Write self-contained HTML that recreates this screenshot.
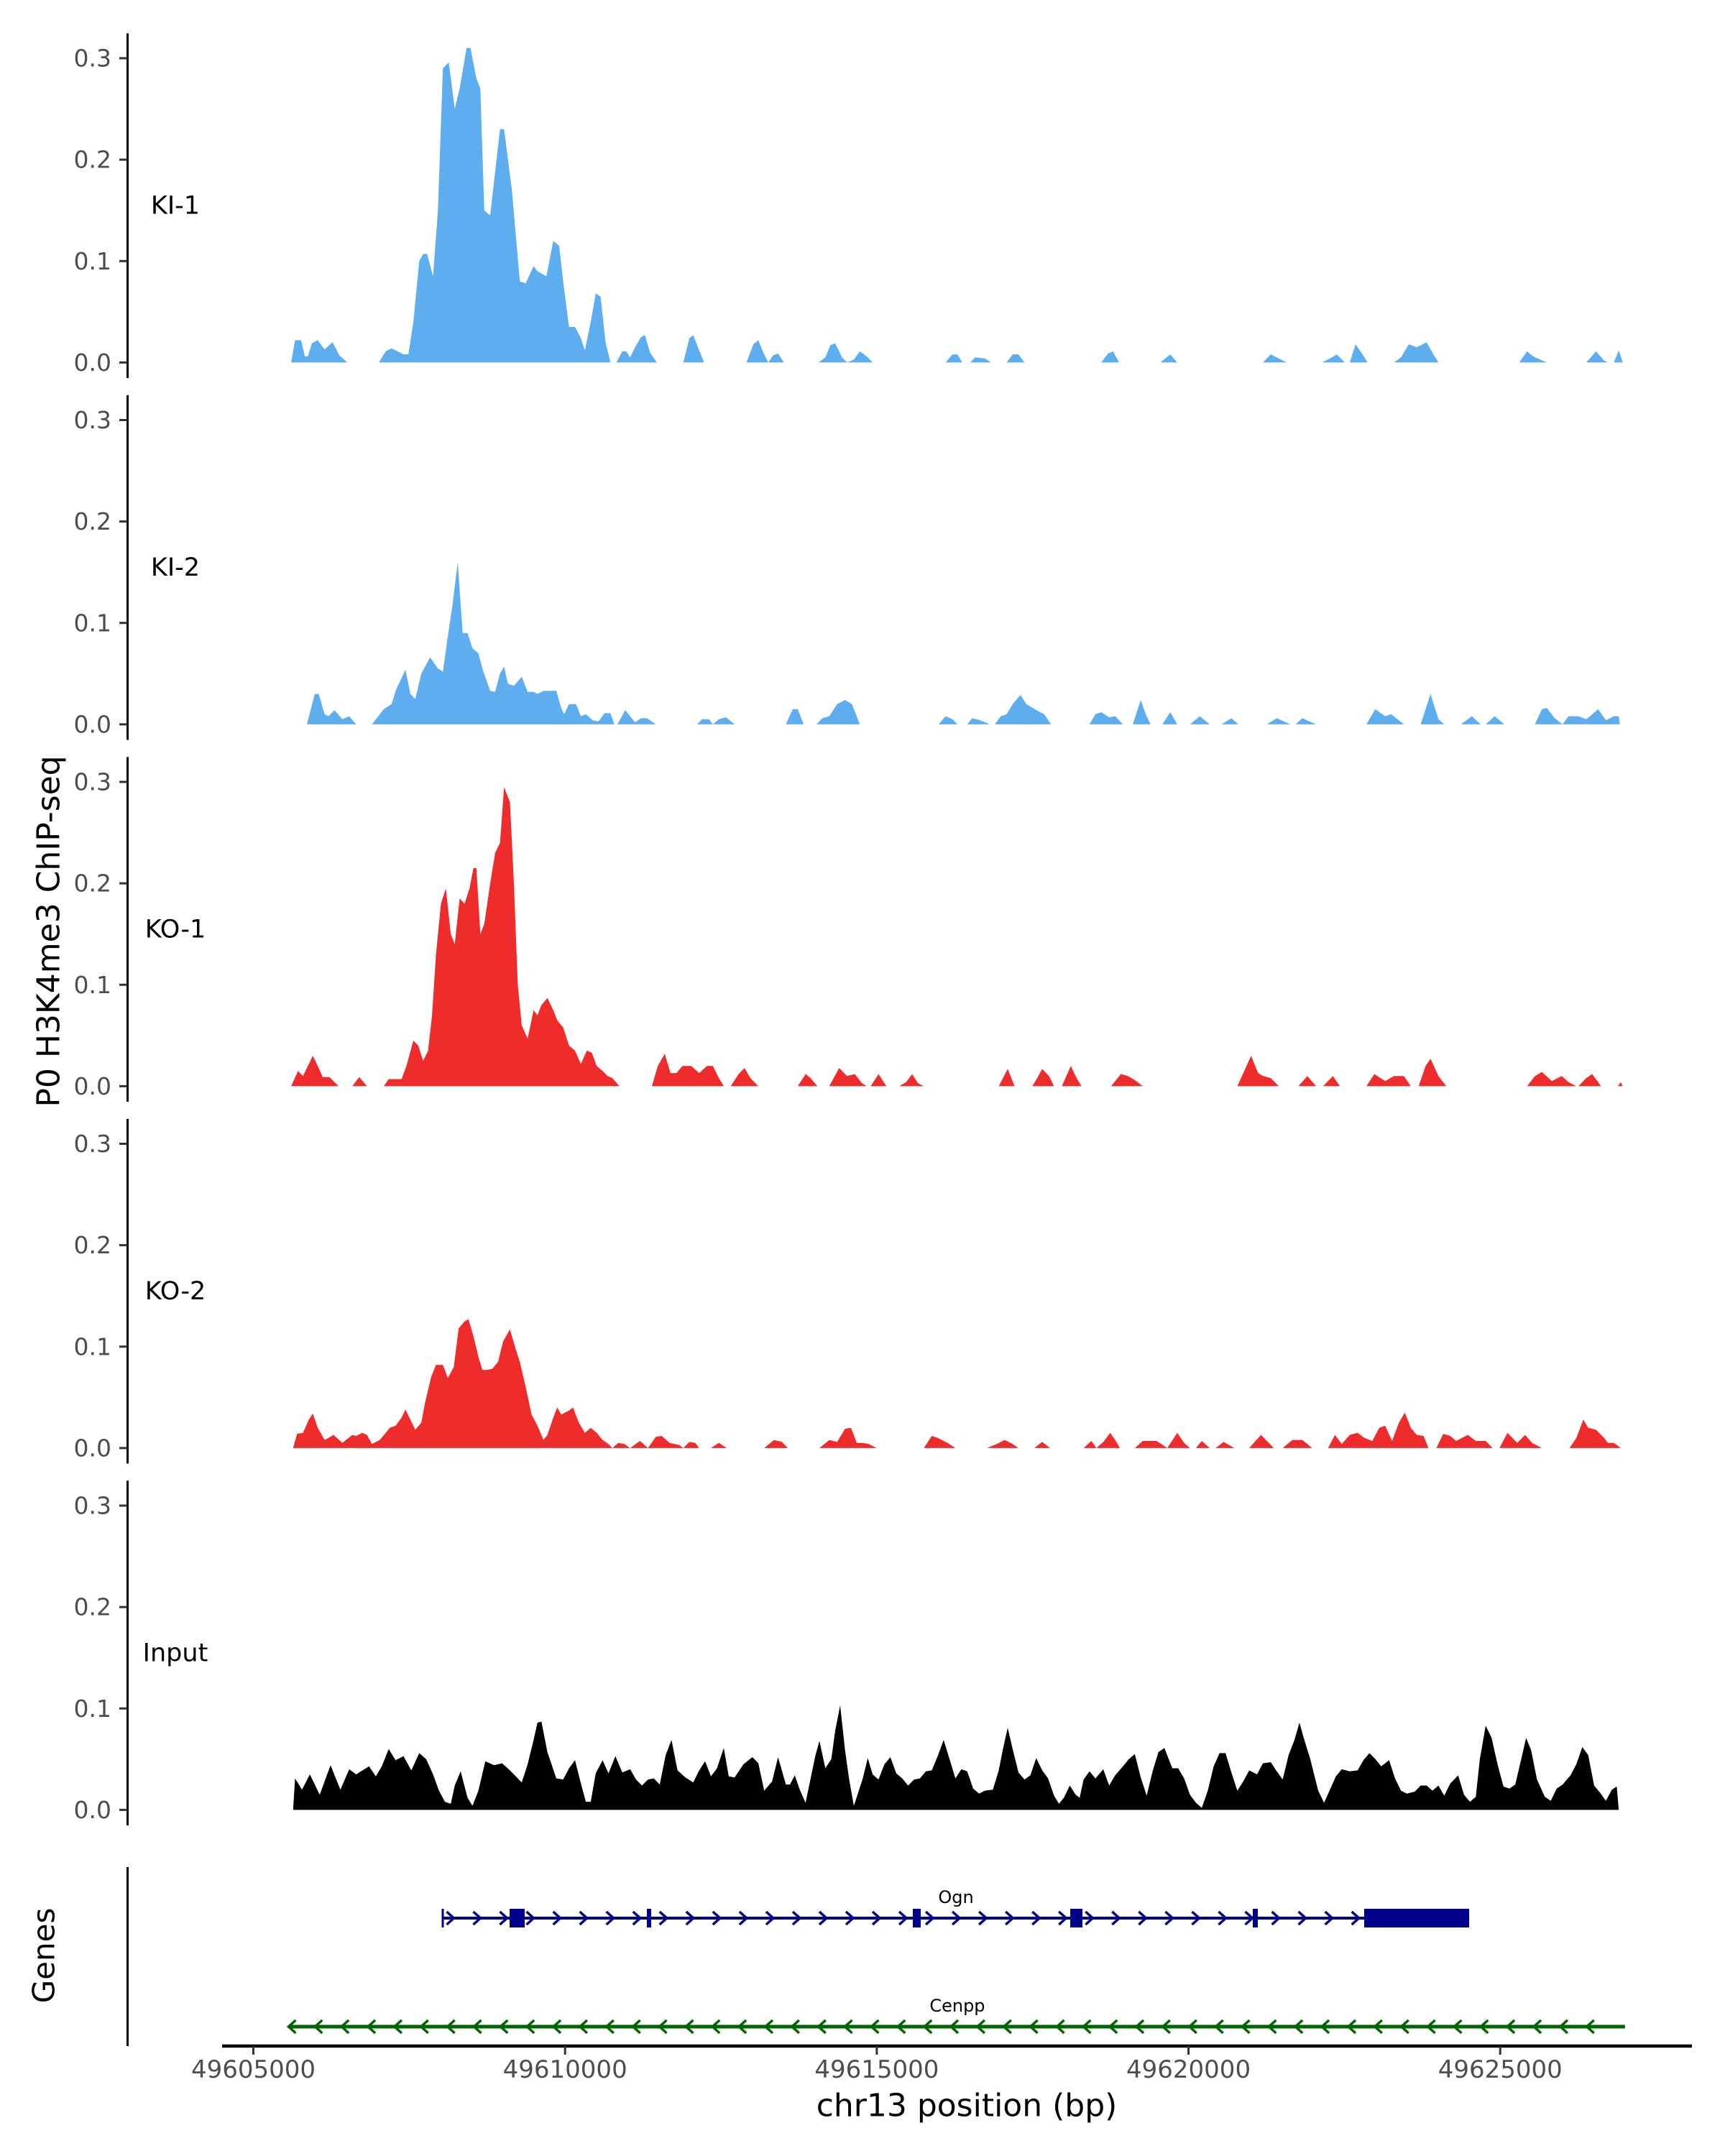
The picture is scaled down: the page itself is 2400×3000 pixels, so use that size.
<!DOCTYPE html>
<html><head><meta charset="utf-8">
<style>
html,body{margin:0;padding:0;background:#fff;}
svg{display:block;font-family:"DejaVu Sans","Liberation Sans",sans-serif;}
</style></head>
<body>
<svg id="chart" xmlns="http://www.w3.org/2000/svg" width="2400" height="3000" viewBox="0 0 2400 3000">
<rect x="0" y="0" width="2400" height="3000" fill="#fff"/>
<g id="tracks"></g>
<g id="genes"></g>
<g id="xaxis"></g>
<text x="68" y="1296" transform="rotate(-90 68 1296)" text-anchor="middle" dominant-baseline="central" font-size="44" fill="#000">P0 H3K4me3 ChIP-seq</text>
<text x="61" y="2721" transform="rotate(-90 61 2721)" text-anchor="middle" dominant-baseline="central" font-size="42" fill="#000">Genes</text>
<text x="1345" y="2930" text-anchor="middle" dominant-baseline="central" font-size="44" fill="#000">chr13 position (bp)</text>
</svg>
<script>
const base = 49600000;
const trackNames = ["KI-1","KI-2","KO-1","KO-2","Input"];
const trackColors = ["#5eadee","#5eadee","#ee2c2c","#ee2c2c","#000000"];
const yTicks = [0.0,0.1,0.2,0.3];
const yTickLabels = ["0.0","0.1","0.2","0.3"];
const xTicks = [49605000,49610000,49615000,49620000,49625000];

const ki1Pos = [5606,5669,5764,5827,5874,5938,6033,6143,6270,6380,6507,7013,7123,7218,7408,7487,7566,7661,7724,7787,7882,7961,8040,8135,8230,8309,8420,8483,8578,8641,8704,8799,8863,8957,9021,9147,9274,9368,9495,9558,9700,9811,9906,9969,10064,10159,10254,10317,10412,10491,10570,10649,10728,10823,10918,10981,11044,11123,11218,11281,11361,11471,11898,11993,12056,12151,12230,12910,13021,13100,13179,13258,13337,13416,13511,14064,14175,14254,14333,14443,14523,14633,14728,14839,14934,16104,16214,16293,16372,16499,16578,16736,16831,17084,17179,17273,17368,18601,18712,18791,18886,19550,19708,19819,21194,21321,21574,22143,22269,22380,22507,22586,22680,22823,22870,23297,23408,23534,23661,23819,23929,24009,25305,25431,25526,25748,26380,26538,26665,26728,26823,26902,26965];
const ki1Val = [0,.022,.022,.006,.006,.019,.022,.013,.02,.007,0,0,.011,.014,.008,.008,.04,.10,.107,.107,.085,.15,.29,.296,.25,.27,.31,.31,.28,.27,.15,.145,.18,.23,.23,.17,.08,.078,.095,.09,.085,.12,.115,.08,.035,.035,.024,.012,.04,.068,.065,.02,0,0,.011,.011,.005,.015,.025,.027,.01,0,0,.024,.027,.012,0,0,.018,.022,.01,0,.007,.009,0,0,.005,.017,.019,.005,0,.003,.011,.006,0,0,.008,.008,0,0,.005,.004,0,0,.008,.008,0,0,.009,.011,0,0,.008,0,0,.008,0,0,.004,.008,0,0,.018,.005,0,0,.005,.018,.015,.02,.008,0,0,.011,.006,0,0,.011,.002,0,0,.012,0];

const ki2Pos = [5859,5985,6048,6143,6206,6301,6428,6538,6649,6902,7092,7218,7282,7440,7519,7598,7693,7835,7961,8040,8104,8199,8278,8357,8436,8515,8610,8673,8799,8878,8957,9021,9084,9179,9305,9400,9495,9558,9653,9859,9938,9985,10064,10175,10254,10333,10444,10538,10633,10728,10791,10839,10965,11123,11218,11313,11455,12119,12198,12309,12372,12467,12578,12720,13542,13653,13732,13827,14032,14127,14238,14364,14491,14601,14728,15993,16104,16214,16293,16451,16530,16657,16815,16894,16989,17084,17179,17305,17400,17590,17685,17795,18412,18507,18601,18728,18823,18949,19107,19234,19313,19392,19582,19708,19819,20024,20182,20341,20530,20688,20799,21258,21416,21637,21716,21827,22048,22854,22997,23155,23250,23455,23724,23882,24009,24103,24372,24546,24688,24768,24910,25068,25558,25669,25748,25875,26001,26096,26254,26380,26459,26570,26697,26823,26902,26918];
const ki2Val = [0,.03,.03,.01,.008,.014,.005,.008,0,0,.015,.02,.033,.054,.03,.025,.05,.066,.055,.052,.08,.12,.16,.09,.09,.075,.07,.055,.033,.032,.05,.057,.04,.038,.047,.032,.032,.03,.033,.033,.016,.01,.02,.02,.008,.01,.004,.003,.011,.011,0,0,.014,.002,.006,.006,0,0,.005,.005,0,.005,.007,0,0,.015,.015,0,0,.006,.008,.02,.024,.02,0,0,.008,.005,0,0,.006,.004,0,0,.008,.01,.02,.029,.02,.013,.01,0,0,.01,.012,.007,.008,0,0,.024,.01,0,0,.012,0,0,.008,0,0,.006,0,0,.006,0,0,.006,0,0,.015,.008,.01,0,0,.03,.005,0,0,.008,0,0,.008,0,0,.015,.016,.006,0,.008,.008,.005,.009,.015,.004,.008,.008,0];

const ko1Pos = [5606,5716,5796,5875,5954,6033,6112,6222,6365,6586,6697,6823,7092,7171,7282,7377,7456,7566,7645,7724,7803,7866,7930,8009,8088,8167,8230,8309,8388,8467,8530,8577,8641,8704,8799,8878,8957,9021,9116,9179,9242,9305,9400,9495,9558,9621,9716,9811,9874,9969,10064,10159,10254,10349,10428,10507,10602,10681,10760,10871,11393,11487,11598,11692,11787,11882,12024,12151,12277,12372,12467,12546,12657,12783,12878,12973,13100,13732,13859,13938,14048,14238,14396,14523,14649,14760,14839,14902,15028,15155,15360,15471,15566,15661,15756,16957,17100,17210,17495,17574,17653,17763,17843,17969,18112,18206,18285,18759,18917,19028,19139,19266,20783,20894,21005,21116,21195,21321,21447,21763,21906,22048,22159,22317,22428,22854,22981,23155,23297,23455,23566,23692,23803,23882,24009,24135,25432,25558,25669,25828,25986,26096,26222,26254,26380,26475,26618,26886,26934,26965];
const ko1Val = [0,.015,.01,.02,.03,.02,.009,.009,0,0,.009,0,0,.007,.007,.007,.02,.045,.04,.025,.035,.07,.13,.18,.195,.15,.14,.185,.18,.195,.215,.215,.15,.16,.2,.23,.24,.295,.28,.2,.1,.06,.047,.075,.07,.08,.087,.075,.065,.058,.04,.035,.022,.035,.033,.02,.015,.01,.008,0,0,.02,.032,.013,.013,.02,.02,.013,.02,.02,.008,0,0,.012,.018,.008,0,0,.012,.008,0,0,.018,.01,.012,.003,0,0,.012,0,0,.004,.012,.003,0,0,.017,0,0,.008,.017,.01,0,0,.02,.008,0,0,.012,.01,.006,0,0,.015,.03,.013,.01,.008,0,0,.01,0,0,.01,0,0,.012,.005,.01,.01,0,0,.02,.027,.01,0,0,.01,.014,.005,.01,.004,0,0,.008,.012,0,0,.004,0];

const ko2Pos = [5637,5701,5796,5890,5954,6033,6143,6206,6285,6428,6586,6649,6744,6823,6902,7029,7124,7187,7282,7377,7440,7503,7598,7693,7756,7851,7930,8040,8120,8215,8294,8388,8452,8531,8610,8673,8736,8831,8926,9005,9116,9195,9274,9368,9463,9558,9653,9716,9811,9874,9938,10064,10127,10222,10317,10412,10507,10602,10697,10760,10855,10950,11044,11202,11329,11455,11550,11676,11835,11898,11993,12088,12151,12340,12467,12593,13194,13353,13479,13574,14080,14238,14364,14491,14586,14680,14775,14870,14997,15756,15882,15977,16135,16262,16768,16926,17052,17179,17273,17526,17653,17779,18317,18443,18523,18634,18744,18823,18902,19139,19266,19487,19660,19819,19929,20024,20119,20214,20341,20436,20562,20736,20973,21163,21368,21510,21669,21827,21985,22238,22349,22459,22586,22712,22823,22949,23060,23155,23266,23376,23471,23566,23661,23771,23850,23977,24087,24198,24293,24482,24609,24768,24878,24989,25116,25274,25400,25511,25669,26112,26222,26333,26412,26538,26665,26728,26823,26934];
const ko2Val = [0,.014,.015,.028,.034,.02,.008,.01,.013,.005,.013,.012,.015,.013,.004,.008,.015,.02,.022,.03,.038,.03,.018,.025,.045,.07,.082,.082,.069,.08,.118,.125,.127,.11,.09,.077,.077,.078,.085,.105,.117,.1,.085,.06,.033,.022,.008,.013,.03,.04,.033,.037,.04,.025,.015,.02,.015,.008,.004,0,.005,.004,0,.007,0,.011,.012,.005,.003,0,.006,.005,0,0,.005,0,0,.008,.006,0,0,.008,.006,.019,.02,.005,.005,.004,0,0,.012,.01,.005,0,0,.004,.008,.004,0,0,.006,0,0,.007,0,.006,.015,.008,0,0,.007,.007,0,.015,.005,0,0,.007,0,0,.006,0,0,.013,0,0,.008,.008,0,0,.013,.004,.013,.015,.01,.007,.02,.022,.007,.025,.035,.02,.013,.012,0,0,.014,.012,.007,.013,.007,.007,0,0,.015,.005,.013,.005,0,0,.01,.028,.02,.018,.01,.005,.005,0];

const inputPos = [5637,5669,5780,5906,6064,6238,6396,6538,6649,6855,6965,7060,7171,7282,7408,7534,7661,7772,7882,7977,8072,8167,8230,8325,8436,8515,8610,8720,8863,8989,9115,9210,9305,9400,9495,9558,9621,9716,9859,9969,10064,10159,10254,10333,10412,10491,10602,10696,10807,10918,11044,11139,11234,11329,11424,11519,11613,11708,11803,11930,12056,12151,12246,12341,12436,12546,12625,12720,12862,13005,13100,13194,13321,13416,13542,13606,13685,13764,13858,13938,14017,14080,14175,14270,14333,14412,14491,14554,14633,14712,14775,14855,14934,15028,15123,15218,15313,15408,15503,15598,15692,15787,15882,15977,16072,16167,16262,16356,16451,16546,16641,16736,16862,16957,17020,17100,17179,17273,17368,17463,17558,17653,17748,17843,17922,18001,18096,18190,18254,18317,18412,18507,18633,18728,18823,18949,19044,19139,19234,19329,19424,19518,19613,19740,19835,19930,20024,20119,20214,20309,20404,20499,20594,20688,20783,20878,20973,21099,21194,21321,21416,21511,21605,21700,21779,21858,21953,22080,22175,22269,22364,22459,22586,22712,22807,22902,22997,23092,23218,23313,23408,23503,23629,23724,23819,23914,24009,24103,24198,24325,24420,24514,24609,24673,24767,24862,24957,25052,25147,25242,25337,25416,25495,25590,25716,25811,25906,26001,26127,26222,26317,26412,26506,26601,26696,26791,26870,26902];
const inputVal = [0,.031,.02,.035,.015,.044,.02,.04,.035,.043,.033,.043,.06,.049,.053,.039,.056,.05,.035,.019,.008,.006,.024,.038,.012,.004,.019,.048,.044,.046,.039,.033,.027,.045,.069,.086,.087,.057,.031,.03,.041,.049,.026,.008,.008,.036,.049,.036,.053,.037,.04,.03,.024,.03,.031,.025,.054,.069,.039,.032,.027,.039,.048,.033,.041,.061,.033,.032,.045,.052,.046,.019,.028,.052,.025,.025,.034,.02,.007,.031,.054,.068,.041,.05,.078,.103,.059,.031,.004,.019,.031,.051,.035,.03,.045,.052,.036,.031,.024,.03,.031,.038,.039,.053,.069,.05,.031,.04,.038,.021,.016,.019,.02,.039,.059,.081,.06,.037,.03,.034,.051,.039,.031,.014,.006,.012,.024,.015,.012,.03,.038,.031,.04,.024,.034,.043,.05,.055,.032,.014,.038,.057,.061,.041,.041,.031,.015,.007,.002,.019,.043,.056,.056,.037,.019,.028,.039,.035,.046,.047,.038,.03,.054,.069,.086,.069,.05,.019,.007,.02,.033,.04,.038,.039,.049,.056,.05,.043,.049,.031,.019,.016,.018,.024,.024,.019,.024,.014,.026,.034,.015,.008,.013,.05,.083,.071,.045,.023,.021,.025,.05,.071,.059,.03,.013,.009,.021,.025,.034,.045,.062,.054,.024,.017,.009,.02,.023,0];

const trackPos = [ki1Pos,ki2Pos,ko1Pos,ko2Pos,inputPos];
const trackVal = [ki1Val,ki2Val,ko1Val,ko2Val,inputVal];

const ognExonStart = [49609110,49611312,49615578,49618103,49621031,49622818];
const ognExonEnd   = [49609352,49611381,49615705,49618299,49621112,49624502];
const ognStart = 49608038, ognEnd = 49624502;
const cenppStart = 49605582, cenppEnd = 49627002;

const NS = "http://www.w3.org/2000/svg";
function xScale(bp){ return 352.5 + (bp - 49605000) * 0.086737; }
function zeroY(i){ return 504.4 + 503.5 * i; }
function yScale(i, v){ return zeroY(i) - v * 1411.3; }
function mk(tag, attrs, parent){
  const el = document.createElementNS(NS, tag);
  for (const k in attrs) el.setAttribute(k, attrs[k]);
  parent.appendChild(el);
  return el;
}
const tracksG = document.getElementById('tracks');
trackNames.forEach((name, i) => {
  const g = mk('g', {}, tracksG);
  
  
  const z = zeroY(i);
  const ax = mk('line', {x1:177.5, x2:177.5, y1:z-458, y2:z+21.6, stroke:'#000', 'stroke-width':3}, g);
  
  
  yTicks.forEach((t, j) => {
    const y = yScale(i, t);
    const tk = mk('line', {x1:166, x2:177.5, y1:y, y2:y, stroke:'#333', 'stroke-width':3}, g);
    
    
    const tl = mk('text', {x:155, y:y, 'text-anchor':'end', 'dominant-baseline':'central', 'font-size':33, fill:'#4d4d4d'}, g);
    tl.textContent = yTickLabels[j];
    
    
  });
  const lab = mk('text', {x:244, y:z-218, 'text-anchor':'middle', 'dominant-baseline':'central', 'font-size':35, fill:'#000'}, g);
  lab.textContent = name;
  
  
  const pos = trackPos[i], val = trackVal[i];
  let d = 'M' + xScale(base + pos[0]).toFixed(1) + ',' + z;
  for (let k = 0; k < pos.length; k++) {
    d += 'L' + xScale(base + pos[k]).toFixed(1) + ',' + yScale(i, val[k]).toFixed(1);
  }
  d += 'L' + xScale(base + pos[pos.length-1]).toFixed(1) + ',' + z + 'Z';
  const area = mk('path', {d:d, fill:trackColors[i]}, g);
  
  
});

// genes
const genesG = document.getElementById('genes');
const gax = mk('line', {x1:177.5, x2:177.5, y1:2598, y2:2847, stroke:'#000', 'stroke-width':3}, genesG);



const ognY = 2669, cenY = 2820;
const ogn = mk('g', {}, genesG);


mk('line', {x1:xScale(ognStart), x2:xScale(ognEnd), y1:ognY, y2:ognY, stroke:'#00008b', 'stroke-width':4}, ogn);
mk('line', {x1:xScale(ognStart), x2:xScale(ognStart), y1:ognY-13, y2:ognY+13, stroke:'#00008b', 'stroke-width':3}, ogn);
for (let bp = ognStart + 120; bp < ognEnd; bp += 427) {
  const x = xScale(bp);
  let inEx = false;
  for (let e = 0; e < ognExonStart.length; e++) if (bp > ognExonStart[e] - 60 && bp < ognExonEnd[e] + 60) inEx = true;
  if (inEx) continue;
  mk('polyline', {points:(x-5)+','+(ognY-9)+' '+(x+5)+','+ognY+' '+(x-5)+','+(ognY+9), fill:'none', stroke:'#00008b', 'stroke-width':3.5}, ogn);
}
ognExonStart.forEach((s, e) => {
  const r = mk('rect', {x:xScale(s), y:ognY-13, width:Math.max(4, xScale(ognExonEnd[e]) - xScale(s)), height:26, fill:'#00008b'}, ogn);
  
  
});
const ol = mk('text', {x:(xScale(ognStart)+xScale(ognEnd))/2, y:2640, 'text-anchor':'middle', 'dominant-baseline':'central', 'font-size':24, fill:'#000'}, ogn);
ol.textContent = 'Ogn';



const cen = mk('g', {}, genesG);


mk('line', {x1:xScale(cenppStart), x2:xScale(cenppEnd), y1:cenY, y2:cenY, stroke:'#006400', 'stroke-width':5}, cen);
for (let bp = cenppStart + 40; bp < cenppEnd - 150; bp += 425) {
  const x = xScale(bp);
  mk('polyline', {points:(x+5)+','+(cenY-9)+' '+(x-5)+','+cenY+' '+(x+5)+','+(cenY+9), fill:'none', stroke:'#006400', 'stroke-width':3.5}, cen);
}
const cl = mk('text', {x:(xScale(cenppStart)+xScale(cenppEnd))/2, y:2791, 'text-anchor':'middle', 'dominant-baseline':'central', 'font-size':24, fill:'#000'}, cen);
cl.textContent = 'Cenpp';



// x axis
const xg = document.getElementById('xaxis');
const xl = mk('line', {x1:309, x2:2354, y1:2847, y2:2847, stroke:'#000', 'stroke-width':4.5}, xg);


xTicks.forEach(t => {
  const x = xScale(t);
  const tk = mk('line', {x1:x, x2:x, y1:2847, y2:2859, stroke:'#333', 'stroke-width':3}, xg);
  
  
  const tl = mk('text', {x:x, y:2880, 'text-anchor':'middle', 'dominant-baseline':'central', 'font-size':34, fill:'#4d4d4d'}, xg);
  tl.textContent = String(t);
  
  
});
</script>
</body></html>
